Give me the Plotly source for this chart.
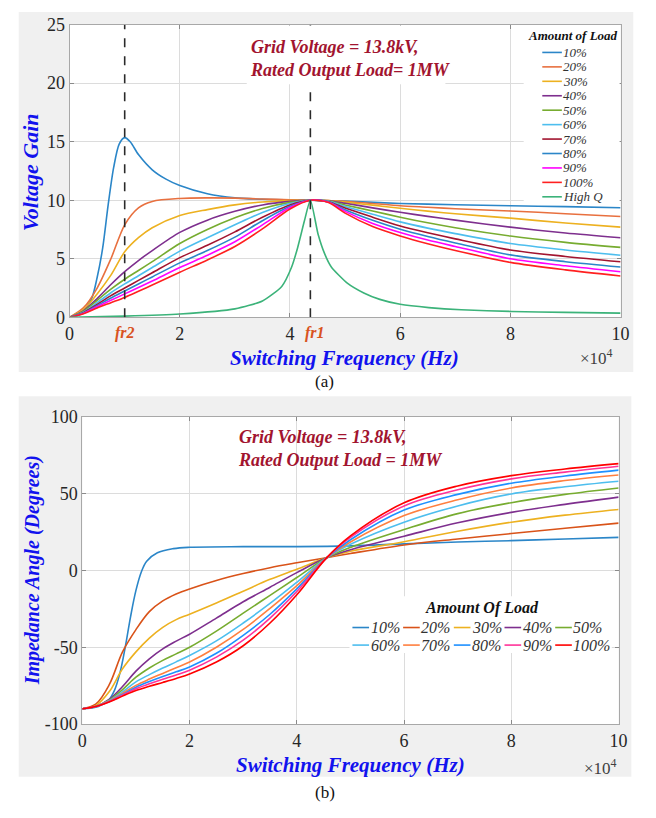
import plotly.graph_objects as go

W, H = 656, 818
def px(x): return x / W
def py(y): return 1 - y / H

# ---------------- DATA ----------------
# (a) Voltage gain vs switching frequency (x in units of 1e4 Hz)
load_labels = ["10%", "20%", "30%", "40%", "50%", "60%", "70%", "80%", "90%", "100%"]
gain_freq = [0, 0.25, 0.5, 0.75, 1, 1.25, 1.5, 2, 2.5, 3, 3.5, 4, 4.37, 4.7, 5, 5.5, 6, 6.5, 7, 8, 9, 10]
gain_freq_10 = [0, 0.2, 0.4, 0.5, 0.6, 0.7, 0.8, 0.9, 1.0, 1.1, 1.25, 1.5, 1.75, 2, 2.5, 3, 3.5, 4, 4.37, 5, 6, 7, 8, 9, 10]
gain_10 = [0, 0.3, 1.6, 3.4, 5.9, 9.6, 12.8, 14.8, 15.35, 15.0, 13.9, 12.6, 11.8, 11.25, 10.55, 10.2, 10.08, 10.03, 10.0, 9.92, 9.72, 9.62, 9.53, 9.45, 9.36]
gain_20 = [0, 0.8, 2.5, 5.0, 7.9, 9.35, 9.9, 10.15, 10.2, 10.18, 10.1, 10.04, 10.0, 9.98, 9.9, 9.72, 9.53, 9.4, 9.27, 9.08, 8.85, 8.61]
gain_30 = [0, 0.65, 2.0, 3.6, 5.6, 6.8, 7.65, 8.7, 9.2, 9.6, 9.85, 9.97, 10.0, 9.97, 9.84, 9.58, 9.32, 9.07, 8.84, 8.47, 8.05, 7.7]
gain_40 = [0, 0.55, 1.6, 2.8, 3.9, 4.85, 5.7, 7.25, 8.3, 9.05, 9.6, 9.9, 10.0, 9.95, 9.74, 9.35, 8.97, 8.62, 8.3, 7.7, 7.2, 6.8]
gain_50 = [0, 0.5, 1.45, 2.4, 3.25, 4.0, 4.75, 6.3, 7.5, 8.5, 9.3, 9.82, 10.0, 9.93, 9.6, 9.08, 8.55, 8.07, 7.65, 6.94, 6.4, 5.97]
gain_60 = [0, 0.44, 1.25, 2.1, 2.85, 3.55, 4.25, 5.65, 6.8, 7.9, 8.95, 9.72, 10.0, 9.9, 9.47, 8.8, 8.15, 7.62, 7.15, 6.3, 5.75, 5.3]
gain_70 = [0, 0.4, 1.1, 1.85, 2.5, 3.15, 3.8, 5.1, 6.15, 7.3, 8.55, 9.6, 10.0, 9.87, 9.33, 8.55, 7.8, 7.22, 6.7, 5.75, 5.2, 4.75]
gain_80 = [0, 0.36, 1.0, 1.65, 2.25, 2.85, 3.45, 4.65, 5.7, 6.85, 8.25, 9.48, 10.0, 9.85, 9.18, 8.28, 7.52, 6.9, 6.35, 5.33, 4.75, 4.3]
gain_90 = [0, 0.33, 0.9, 1.45, 2.0, 2.55, 3.1, 4.25, 5.3, 6.45, 7.9, 9.38, 10.0, 9.83, 9.05, 8.02, 7.25, 6.6, 6.05, 5.0, 4.4, 3.89]
gain_100 = [0, 0.3, 0.8, 1.25, 1.7, 2.22, 2.75, 3.85, 4.9, 6.05, 7.55, 9.25, 10.0, 9.8, 8.9, 7.75, 6.95, 6.28, 5.7, 4.69, 4.05, 3.53]
highq_freq = [0, 1, 2, 3, 3.5, 3.85, 4.03, 4.14, 4.26, 4.37, 4.51, 4.63, 4.75, 5.04, 5.34, 5.63, 6.0, 6.52, 7.11, 8.02, 9, 10]
gain_highq = [0, 0.1, 0.28, 0.72, 1.4, 2.64, 4.3, 5.97, 8.2, 10.0, 7.1, 5.42, 4.3, 2.92, 2.08, 1.53, 1.11, 0.83, 0.64, 0.5, 0.42, 0.36]
fr2, fr1 = 1.0, 4.37

# (b) Impedance angle vs switching frequency
ang_freq = [0, 0.25, 0.5, 0.75, 1, 1.25, 1.5, 1.75, 2, 2.5, 3, 3.5, 4, 4.55, 5, 6, 7, 8, 9, 10]
ang_freq_10 = [0, 0.3, 0.5, 0.6, 0.7, 0.8, 0.9, 1.0, 1.1, 1.2, 1.4, 1.7, 2, 3, 4, 5, 6, 7, 8, 9, 10]
ang_10 = [-90, -88.5, -84, -78, -67, -50, -30, -13, -1, 6, 11.5, 14.2, 15.1, 15.5, 15.5, 16, 17.3, 18.5, 19.4, 20.5, 21.5]
ang_20 = [-90, -87, -74.5, -53, -38.5, -26.8, -19.8, -15.3, -12, -6.5, -2, 1.8, 5, 8.3, 11, 16.6, 20.5, 24, 27.5, 30.8]
ang_30 = [-90, -88, -79, -64, -53, -44, -37, -32, -28.5, -21.2, -13.5, -5.8, 0.8, 8.2, 12.5, 18.7, 25.5, 31.4, 36, 39.7]
ang_40 = [-90, -88.5, -84, -75.5, -65.5, -57.5, -51, -46, -41.5, -31, -20.4, -10.9, -1.4, 8.2, 13.5, 22.3, 31, 37.8, 43, 47.7]
ang_50 = [-90, -88.5, -84.5, -77.5, -69.5, -63.5, -58.5, -54.3, -50, -39.5, -27.8, -16.2, -4.6, 8.1, 15, 26.6, 37, 44.1, 49.5, 53.7]
ang_60 = [-90, -88.5, -84.8, -79, -72.5, -67.8, -63.5, -59.5, -55.3, -45.8, -34.2, -21.5, -7.7, 8.1, 17, 31.4, 42, 49.8, 54.5, 58.1]
ang_70 = [-90, -88.5, -85, -80, -74.8, -70.7, -67, -63.3, -59.6, -50, -38.4, -24.7, -9.9, 8, 18.5, 35.7, 46, 53.7, 58.5, 62.1]
ang_80 = [-90, -88.5, -85.2, -80.7, -76, -72.3, -69, -66, -62.8, -53.9, -42.2, -28.5, -12, 8, 20, 39.3, 49.5, 56.8, 61.5, 65.3]
ang_90 = [-90, -88.5, -85.4, -81.2, -77, -73.8, -70.8, -68, -64.9, -56.4, -45.4, -31, -13.7, 8, 21.5, 42, 52.5, 59.6, 64, 67.8]
ang_100 = [-90, -88.5, -85.6, -81.8, -78.2, -75.4, -72.9, -70.3, -67.4, -59.6, -49, -34.2, -15.8, 8, 22.5, 44, 55, 61.7, 66, 69.5]

x_ticks = [0, 2, 4, 6, 8, 10]
gain_ticks = [0, 5, 10, 15, 20, 25]
ang_ticks = [-100, -50, 0, 50, 100]

# ---------------- STYLE ----------------
top_colors = ["#2b86c8", "#e8703f", "#edb120", "#7e2f8e", "#77ac30", "#4dbeee",
              "#a2142f", "#2b86c8", "#ff00ff", "#ff2020"]
highq_color = "#3cb37a"
bot_colors = ["#2b86c8", "#d95319", "#edb120", "#7e2f8e", "#77ac30", "#4dbeee",
              "#ff7f3f", "#1e90ff", "#ff3399", "#ff0000"]
SERIF = "Liberation Serif, Times New Roman, Tinos, DejaVu Serif, serif"
TITLE_BLUE = "#1212ee"
NOTE_RED = "#a2142f"
FR_ORANGE = "#d9531e"

fig = go.Figure()

gain_series = [gain_10, gain_20, gain_30, gain_40, gain_50, gain_60, gain_70, gain_80, gain_90, gain_100]
for i, (lab, vals) in enumerate(zip(load_labels, gain_series)):
    xs = gain_freq_10 if i == 0 else gain_freq
    fig.add_trace(go.Scatter(x=xs, y=vals, mode="lines", name=lab, showlegend=False,
                             line=dict(color=top_colors[i], width=1.6, shape="spline", smoothing=0.8),
                             xaxis="x", yaxis="y"))
fig.add_trace(go.Scatter(x=highq_freq, y=gain_highq, mode="lines", name="High Q", showlegend=False,
                         line=dict(color=highq_color, width=1.6, shape="spline", smoothing=0.6),
                         xaxis="x", yaxis="y"))

ang_series = [ang_10, ang_20, ang_30, ang_40, ang_50, ang_60, ang_70, ang_80, ang_90, ang_100]
for i, (lab, vals) in enumerate(zip(load_labels, ang_series)):
    xs = ang_freq_10 if i == 0 else ang_freq
    fig.add_trace(go.Scatter(x=xs, y=vals, mode="lines", name=lab, showlegend=False,
                             line=dict(color=bot_colors[i], width=1.6, shape="spline", smoothing=1.0),
                             xaxis="x2", yaxis="y2"))

tickfont = dict(family=SERIF, size=18, color="#262626")
axis_common = dict(showgrid=True, gridcolor="#dcdcdc", gridwidth=1, zeroline=False,
                   showline=True, linecolor="#a8a8a8", linewidth=1, mirror="ticks",
                   ticks="inside", ticklen=4, tickcolor="#8a8a8a", tickfont=tickfont)

fig.update_layout(
    width=W, height=H, margin=dict(l=0, r=0, t=0, b=0),
    font=dict(family=SERIF),
    paper_bgcolor="white", plot_bgcolor="white", showlegend=False,
    xaxis=dict(domain=[px(66), px(629)], range=[0, 10], tickvals=x_ticks,
               ticktext=[str(v) for v in x_ticks], anchor="y", **axis_common),
    yaxis=dict(domain=[py(315), py(15)], range=[0, 25], tickvals=gain_ticks,
               ticktext=[str(v) for v in gain_ticks], anchor="x", **axis_common),
    xaxis2=dict(domain=[px(79), px(627)], range=[0, 10], tickvals=x_ticks,
                ticktext=[str(v) for v in x_ticks], anchor="y2", **axis_common),
    yaxis2=dict(domain=[py(732), py(417)], range=[-100, 100], tickvals=ang_ticks,
                ticktext=[str(v) for v in ang_ticks], anchor="x2", **axis_common),
)

shapes = []
# gray figure backgrounds
shapes.append(dict(type="rect", xref="paper", yref="paper", x0=px(14), x1=px(642), y0=py(371), y1=py(2),
                   fillcolor="#f0f0f0", line=dict(width=0), layer="below"))
shapes.append(dict(type="rect", xref="paper", yref="paper", x0=px(14), x1=px(640), y0=py(786), y1=py(396),
                   fillcolor="#f0f0f0", line=dict(width=0), layer="below"))
# white plot areas
for xr, yr in (("x", "y"), ("x2", "y2")):
    shapes.append(dict(type="rect", xref=xr + " domain", yref=yr + " domain", x0=0, x1=1, y0=0, y1=1,
                       fillcolor="white", line=dict(width=0), layer="below"))
# dashed resonance markers
for f in (fr2, fr1):
    shapes.append(dict(type="line", xref="x", yref="y", x0=f, x1=f, y0=0, y1=25,
                       line=dict(color="#2a2a2a", width=1.6, dash="dash"), layer="above"))
# white boxes behind notes and legends
shapes.append(dict(type="rect", xref="paper", yref="paper", x0=px(247), x1=px(450), y0=py(76), y1=py(16),
                   fillcolor="white", line=dict(width=0), layer="above"))
shapes.append(dict(type="rect", xref="paper", yref="paper", x0=px(530), x1=px(628), y0=py(197), y1=py(16),
                   fillcolor="white", line=dict(width=0), layer="above"))
shapes.append(dict(type="rect", xref="paper", yref="paper", x0=px(352), x1=px(620), y0=py(659), y1=py(601),
                   fillcolor="white", line=dict(width=0), layer="above"))

annotations = []
def note(x, y, text, size, color, xanchor="center", yanchor="middle", angle=0, align="center", pad=1):
    annotations.append(dict(xref="paper", yref="paper", x=px(x), y=py(y), text=text, showarrow=False,
                            xanchor=xanchor, yanchor=yanchor, textangle=angle, align=align, borderpad=pad,
                            font=dict(family=SERIF, size=size, color=color)))

# top legend (manual)
legend_top_labels = load_labels + ["High Q"]
legend_top_colors = top_colors + [highq_color]
note(580, 26, "<b><i>Amount of Load</i></b>", 13, "#111", pad=0)
for i, (lab, col) in enumerate(zip(legend_top_labels, legend_top_colors)):
    yy = 43.5 + i * 14.8
    shapes.append(dict(type="line", xref="paper", yref="paper", x0=px(549), x1=px(569), y0=py(yy), y1=py(yy),
                       line=dict(color=col, width=1.6), layer="above"))
    note(569.5, yy, "<i>%s</i>" % lab, 13, "#333", xanchor="left", pad=0)

# bottom legend (manual)
note(487, 613, "<b><i>Amount Of Load</i></b>", 16, "#111", pad=0)
for i, (lab, col) in enumerate(zip(load_labels, bot_colors)):
    row, colm = divmod(i, 5)
    x0 = 355 + colm * 51.8
    yy = 633 + row * 18
    shapes.append(dict(type="line", xref="paper", yref="paper", x0=px(x0), x1=px(x0 + 17), y0=py(yy), y1=py(yy),
                       line=dict(color=col, width=1.6), layer="above"))
    note(x0 + 17.5, yy, "<i>%s</i>" % lab, 16, "#333", xanchor="left", pad=0)

# notes
note(248, 50, "<b><i>Grid Voltage = 13.8kV,<br>Rated Output Load= 1MW</i></b>", 18, NOTE_RED,
     xanchor="left", align="left")
note(236, 449, "<b><i>Grid Voltage = 13.8kV,<br>Rated Output Load = 1MW</i></b>", 18, NOTE_RED,
     xanchor="left", align="left")

# axis titles
note(27, 166, "<b><i>Voltage Gain</i></b>", 22, TITLE_BLUE, angle=-90)
note(347, 357, "<b><i>Switching Frequency (Hz)</i></b>", 21, TITLE_BLUE)
note(29, 574, "<b><i>Impedance Angle (Degrees)</i></b>", 20, TITLE_BLUE, angle=-90)
note(353, 774, "<b><i>Switching Frequency (Hz)</i></b>", 21, TITLE_BLUE)

# exponent markers
note(604, 356, "\u00d710<sup>4</sup>", 17, "#404040")
note(608, 776, "\u00d710<sup>4</sup>", 17, "#404040")

# resonance labels under the axis
for f, lab in ((fr2, "fr2"), (fr1, "fr1")):
    annotations.append(dict(xref="x", yref="paper", x=f + (0.08 if lab == "fr1" else 0), y=py(331),
                            text="<b><i>%s</i></b>" % lab, showarrow=False, xanchor="center", yanchor="middle",
                            font=dict(family=SERIF, size=16, color=FR_ORANGE)))

# captions
note(326, 381, "(a)", 17, "#111")
note(327, 802, "(b)", 17, "#111")

fig.update_layout(shapes=shapes, annotations=annotations)
fig.write_html("out.html")
